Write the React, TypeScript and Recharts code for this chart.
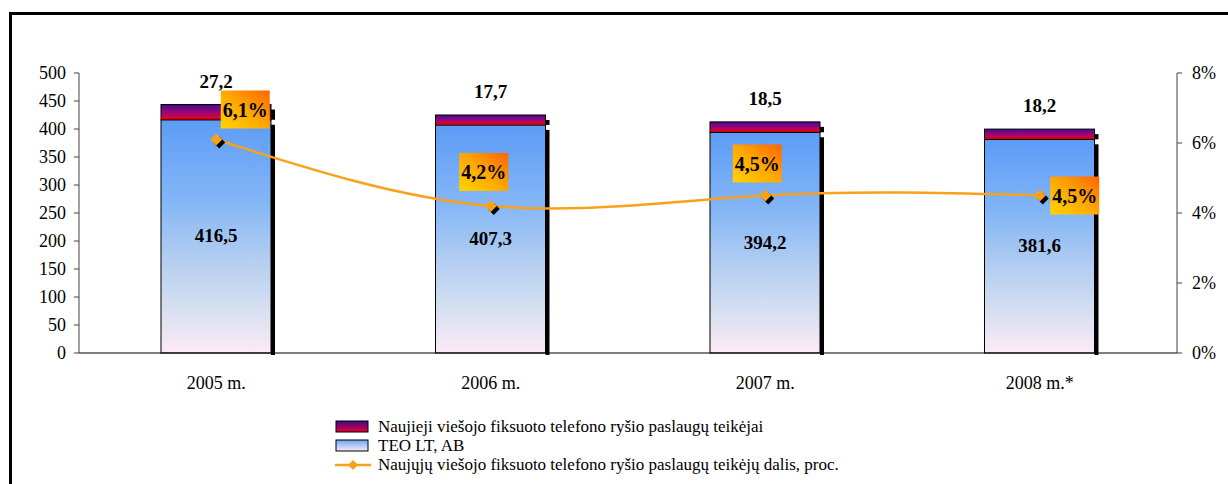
import React from 'react';
import { ComposedChart, Bar, Line, XAxis, YAxis, LabelList, Legend } from 'recharts';

const categories = ['2005 m.', '2006 m.', '2007 m.', '2008 m.*'];
const teoValues = [416.5, 407.3, 394.2, 381.6];
const newProviderValues = [27.2, 17.7, 18.5, 18.2];
const newProviderShare = [6.1, 4.2, 4.5, 4.5];
const leftTicks = [0, 50, 100, 150, 200, 250, 300, 350, 400, 450, 500];
const rightTicks = [0, 2, 4, 6, 8];

const seriesNames = [
  'Naujieji viešojo fiksuoto telefono ryšio paslaugų teikėjai',
  'TEO LT, AB',
  'Naujųjų viešojo fiksuoto telefono ryšio paslaugų teikėjų dalis, proc.',
];

// label box offsets (style only) relative to each line point
const shareLabelOffsets = [
  [29, -30],
  [-7, -34],
  [-8, -32],
  [35, 0],
];

const data = categories.map((c, i) => ({
  category: c,
  teo: teoValues[i],
  newer: newProviderValues[i],
  share: newProviderShare[i],
}));

const FONT = '"Liberation Serif", "Times New Roman", serif';
const fmt = (v: number) => String(v).replace('.', ',');

const ShadowBar = (props: any) => {
  const { x, y, width, height, fill, bottom } = props;
  if (height == null || width == null) return null;
  return (
    <g>
      <rect x={x + width} y={y + 5} width={4} height={height - 5 + (bottom ? 2 : 0)} fill="#000" />
      <rect x={x} y={y} width={width} height={height} fill={fill} stroke="#000" strokeWidth={1} />
    </g>
  );
};

const TopSegment = (props: any) => {
  const { x, y, width, height } = props;
  return (
    <g>
      <ShadowBar {...props} fill="url(#gradNew)" bottom={false} />
      <line x1={x} x2={x + width} y1={y + height - 1} y2={y + height - 1} stroke="#d00000" strokeWidth={1.5} />
    </g>
  );
};

const Diamond = (props: any) => {
  const { cx, cy } = props;
  if (cx == null || cy == null) return null;
  const r = 6;
  const d = (ox: number, oy: number) =>
    `M${cx + ox},${cy + oy - r} L${cx + ox + r},${cy + oy} L${cx + ox},${cy + oy + r} L${cx + ox - r},${cy + oy} Z`;
  return (
    <g>
      <path d={d(3, 3)} fill="#000" />
      <path d={d(0, 0)} fill="#f9a11b" />
    </g>
  );
};

const ShareLabel = (props: any) => {
  const { x, y, value, index } = props;
  const off = shareLabelOffsets[index] || [0, -30];
  const cx = x + off[0];
  const cy = y + off[1];
  const w = 49;
  const h = 38;
  return (
    <g>
      <rect x={cx - w / 2} y={cy - h / 2} width={w} height={h} fill="url(#gradBox)" />
      <text
        x={cx}
        y={cy + 7}
        textAnchor="middle"
        fontFamily={FONT}
        fontWeight="bold"
        fontSize={20}
        fill="#000"
      >
        {fmt(value)}%
      </text>
    </g>
  );
};

const TopLabel = (props: any) => {
  const { x, y, width, value } = props;
  return (
    <text
      x={x + width / 2}
      y={y - 17}
      textAnchor="middle"
      fontFamily={FONT}
      fontWeight="bold"
      fontSize={19}
      fill="#000"
    >
      {fmt(value)}
    </text>
  );
};

const InnerLabel = (props: any) => {
  const { x, y, width, height, value } = props;
  return (
    <text
      x={x + width / 2}
      y={y + height / 2 + 6}
      textAnchor="middle"
      fontFamily={FONT}
      fontWeight="bold"
      fontSize={19}
      fill="#000"
    >
      {fmt(value)}
    </text>
  );
};

const LegendContent = () => {
  const rowStyle: React.CSSProperties = {
    display: 'flex',
    alignItems: 'center',
    height: 19,
    fontFamily: FONT,
    fontSize: 17,
    color: '#000',
    whiteSpace: 'nowrap',
  };
  return (
    <div>
      <div style={rowStyle}>
        <svg width={38} height={14} style={{ marginRight: 5 }}>
          <rect x={1} y={1} width={32} height={11} fill="url(#gradNewLegend)" stroke="#000" />
        </svg>
        <span>{seriesNames[0]}</span>
      </div>
      <div style={rowStyle}>
        <svg width={38} height={14} style={{ marginRight: 5 }}>
          <rect x={1} y={1} width={32} height={11} fill="url(#gradTeoLegend)" stroke="#000" />
        </svg>
        <span>{seriesNames[1]}</span>
      </div>
      <div style={rowStyle}>
        <svg width={38} height={14} style={{ marginRight: 5 }}>
          <line x1={0} x2={36} y1={7} y2={7} stroke="#f9a11b" strokeWidth={2.5} />
          <path d="M18,2 L23,7 L18,12 L13,7 Z" fill="#f9a11b" />
        </svg>
        <span>{seriesNames[2]}</span>
      </div>
      <svg width={0} height={0} style={{ position: 'absolute' }}>
        <defs>
          <linearGradient id="gradNewLegend" x1="0" y1="0" x2="0" y2="1">
            <stop offset="0%" stopColor="#3a0a8e" />
            <stop offset="100%" stopColor="#ee0030" />
          </linearGradient>
          <linearGradient id="gradTeoLegend" x1="0" y1="0" x2="0" y2="1">
            <stop offset="0%" stopColor="#6aa6f6" />
            <stop offset="100%" stopColor="#fbeaf5" />
          </linearGradient>
        </defs>
      </svg>
    </div>
  );
};

export default function App() {
  return (
    <div
      style={{
        position: 'absolute',
        left: 0,
        top: 0,
        width: 1228,
        height: 484,
        overflow: 'hidden',
        background: '#fff',
      }}
    >
      <div
        style={{
          position: 'absolute',
          left: 9,
          top: 12,
          width: 1300,
          height: 600,
          border: '3px solid #000',
          boxSizing: 'border-box',
        }}
      />
      <div style={{ position: 'absolute', left: 0, top: 0 }}>
        <ComposedChart
          width={1228}
          height={484}
          data={data}
          margin={{ top: 73, right: 0, left: 0, bottom: 101 }}
          barSize={110}
        >
          <defs>
            <linearGradient id="gradTeo" x1="0" y1="0" x2="0" y2="1">
              <stop offset="0%" stopColor="#5c9cf6" />
              <stop offset="35%" stopColor="#84b6f6" />
              <stop offset="60%" stopColor="#b3cef1" />
              <stop offset="82%" stopColor="#d8e0f1" />
              <stop offset="100%" stopColor="#fdeaf6" />
            </linearGradient>
            <linearGradient id="gradNew" x1="0" y1="0" x2="0" y2="1">
              <stop offset="0%" stopColor="#420c90" />
              <stop offset="55%" stopColor="#a00670" />
              <stop offset="100%" stopColor="#f00030" />
            </linearGradient>
            <linearGradient id="gradBox" x1="0" y1="1" x2="1" y2="0">
              <stop offset="0%" stopColor="#ffd400" />
              <stop offset="50%" stopColor="#ffa800" />
              <stop offset="100%" stopColor="#ff6400" />
            </linearGradient>
          </defs>
          <XAxis
            dataKey="category"
            height={30}
            tickLine={false}
            tickSize={0}
            tickMargin={23}
            axisLine={{ stroke: '#000', strokeWidth: 1 }}
            tick={{ fontFamily: FONT, fontSize: 18, fill: '#000' }}
            interval={0}
          />
          <YAxis
            yAxisId="left"
            width={79}
            domain={[0, 500]}
            ticks={leftTicks}
            interval={0}
            tickSize={5}
            tickMargin={8}
            axisLine={{ stroke: '#404040' }}
            tickLine={{ stroke: '#404040' }}
            tick={{ fontFamily: FONT, fontSize: 18, fill: '#000' }}
          />
          <YAxis
            yAxisId="right"
            orientation="right"
            width={51}
            domain={[0, 8]}
            ticks={rightTicks}
            interval={0}
            tickSize={5}
            tickMargin={10}
            tickFormatter={(v: number) => `${v}%`}
            axisLine={{ stroke: '#404040' }}
            tickLine={{ stroke: '#404040' }}
            tick={{ fontFamily: FONT, fontSize: 18, fill: '#000' }}
          />
          <Legend
            layout="horizontal"
            verticalAlign="middle"
            align="center"
            content={<LegendContent />}
            wrapperStyle={{ top: 417, left: 335, width: 650, height: 60 }}
          />
          <Bar
            yAxisId="left"
            dataKey="teo"
            name={seriesNames[1]}
            stackId="s"
            isAnimationActive={false}
            shape={(p: any) => <ShadowBar {...p} fill="url(#gradTeo)" bottom={true} />}
          >
            <LabelList dataKey="teo" content={<InnerLabel />} />
          </Bar>
          <Bar
            yAxisId="left"
            dataKey="newer"
            name={seriesNames[0]}
            stackId="s"
            isAnimationActive={false}
            shape={(p: any) => <TopSegment {...p} />}
          >
            <LabelList dataKey="newer" content={<TopLabel />} />
          </Bar>
          <Line
            yAxisId="right"
            dataKey="share"
            name={seriesNames[2]}
            type="natural"
            stroke="#f9a11b"
            strokeWidth={2.5}
            dot={<Diamond />}
            activeDot={false}
            isAnimationActive={false}
          >
            <LabelList dataKey="share" content={<ShareLabel />} />
          </Line>
        </ComposedChart>
      </div>
    </div>
  );
}
